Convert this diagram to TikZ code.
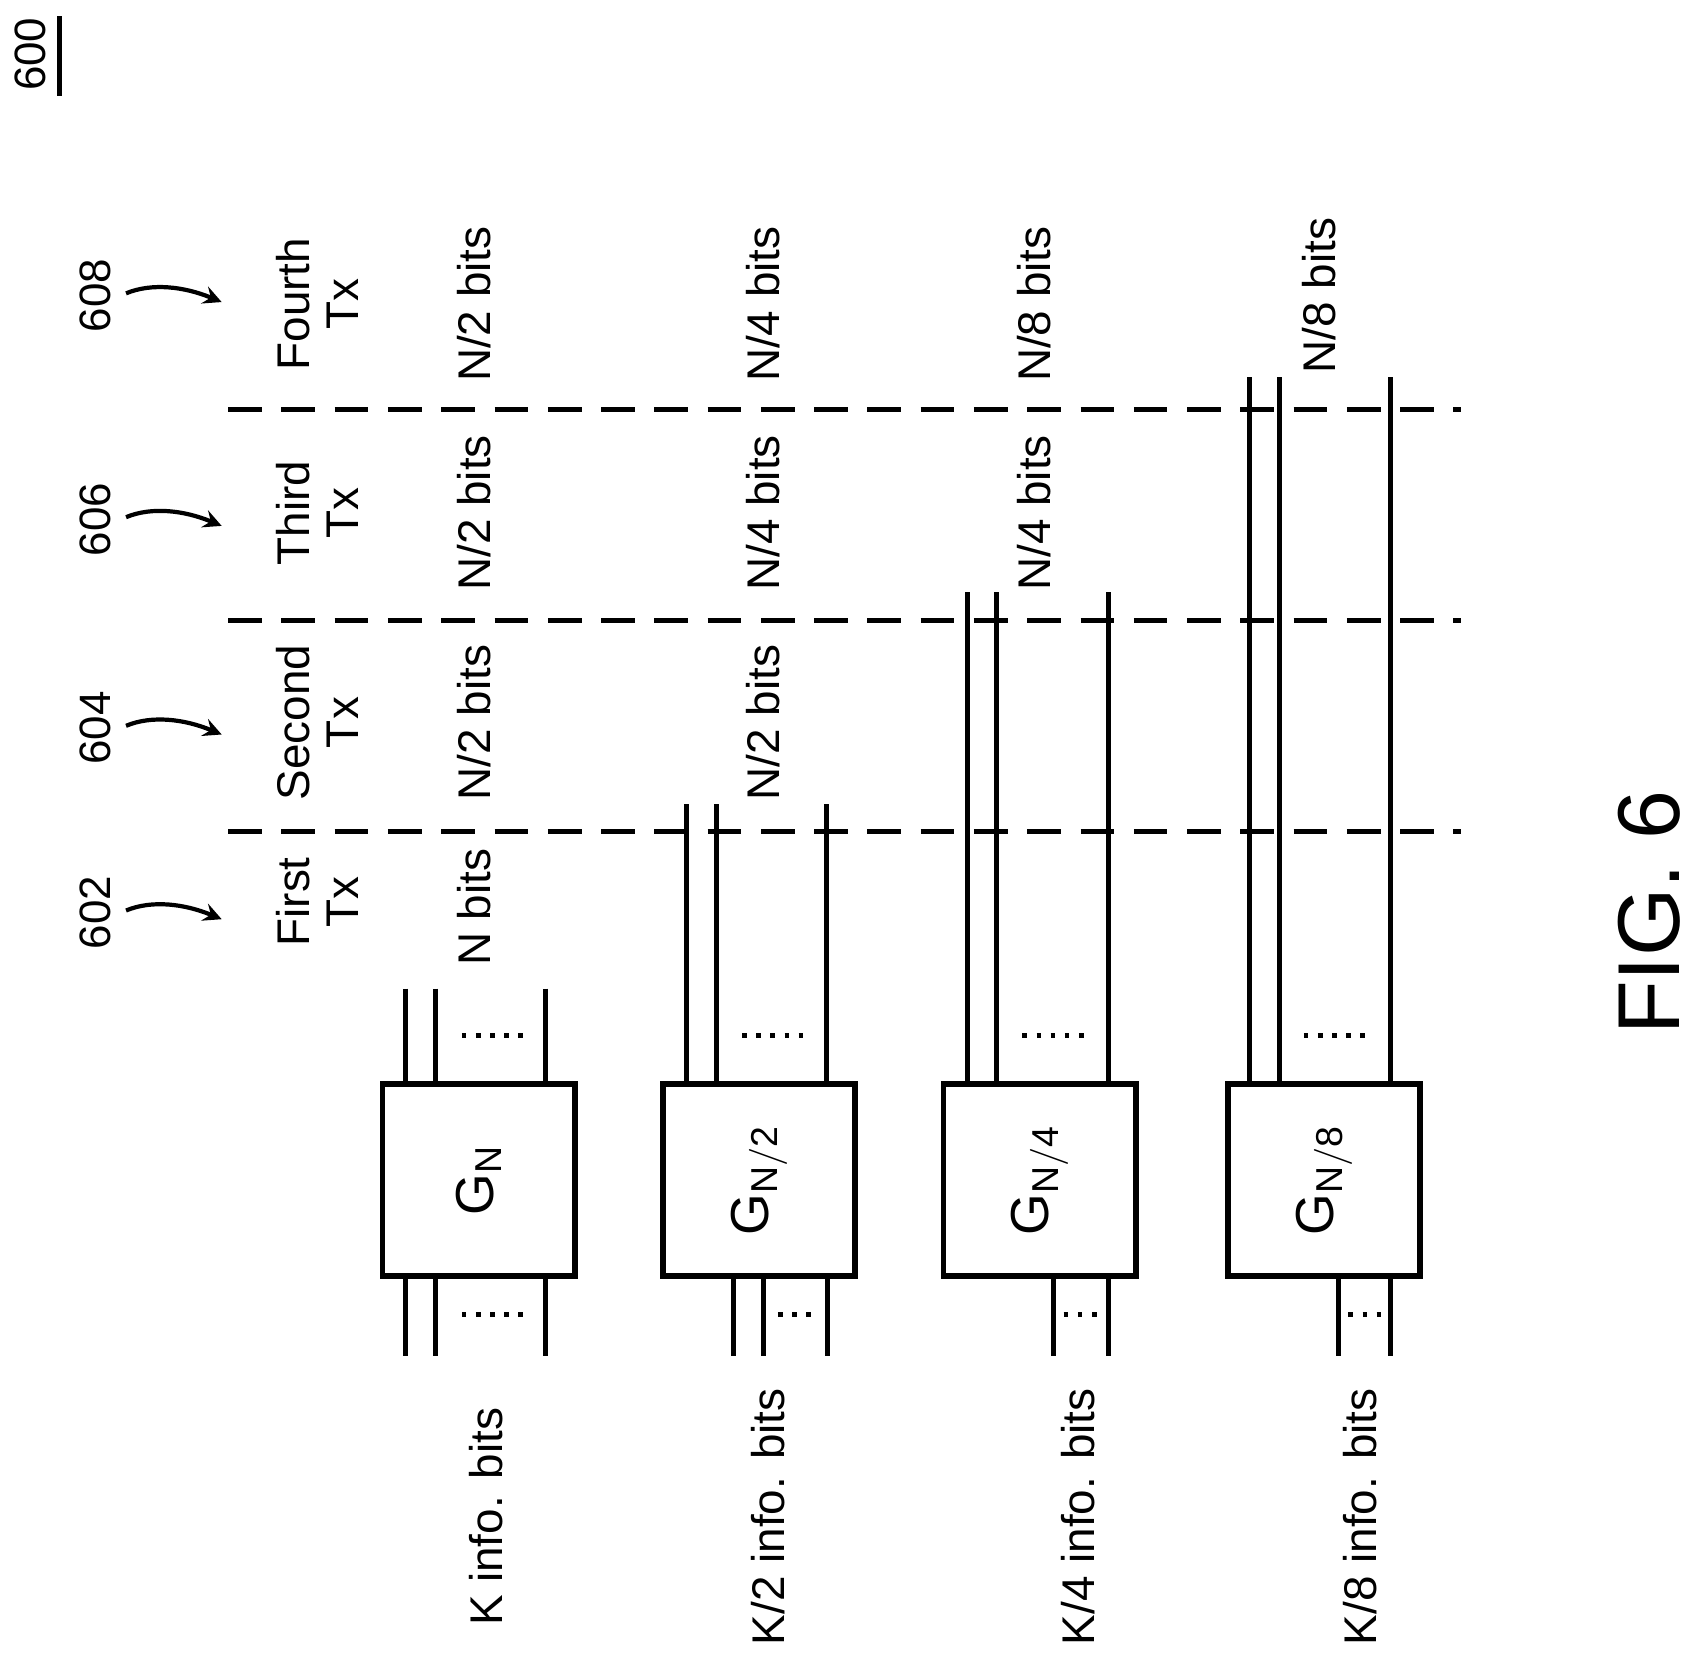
\documentclass[tikz,border=0pt]{standalone}
\usepackage{fontspec}
\setmainfont{Liberation Sans}
\begin{document}
\begin{tikzpicture}[x=0.01cm,y=-0.01cm,
  lbl/.style={rotate=90,font=\fontsize{12}{13}\selectfont,inner sep=0pt},
  ref/.style={rotate=90,font=\fontsize{11.5}{13}\selectfont,inner sep=0pt},
  ln/.style={line width=1.3pt},
  dsh/.style={line width=1.3pt,dash pattern=on 0.31cm off 0.18cm},
  box/.style={draw,line width=1.5pt,minimum width=1.77cm,minimum height=1.76cm,inner sep=0pt},
  dots/.style={line width=1.3pt,dash pattern=on 1.2pt off 2.5pt}]
\useasboundingbox (0,0) rectangle (1560,1534);
% title
\node[ref] (t600) at (28,50) {600};
\coordinate (u1) at (55,15); \coordinate (u2) at (55,88);
\draw[line width=1.2pt] (u1) -- (u2);
% reference labels and arrows
\foreach \n/\y in {602/840,604/670,606/478,608/272}{
  \node[ref] (r\n) at (88,\y) {\n};
  \coordinate (a\n) at (116,\y-2);
  \coordinate (b\n) at (204,\y+6);
  \draw[line width=1.1pt,-stealth] (a\n) .. controls (140,\y-12) and (170,\y-8) .. (b\n);
}
% Tx labels
\node[lbl,align=center] (tx1) at (292,830) {First\\Tx};
\node[lbl,align=center] (tx2) at (292,665) {Second\\Tx};
\node[lbl,align=center] (tx3) at (292,472) {Third\\Tx};
\node[lbl,align=center] (tx4) at (292,280) {Fourth\\Tx};
% dashed separators
\foreach \y/\k in {765/1,571/2,377/3}{
  \coordinate (d\k a) at (210,\y); \coordinate (d\k b) at (1345,\y);
  \draw[dsh] (d\k a) -- (d\k b);
}
% column labels
\node[lbl] (c11) at (436,835) {N bits};
\node[lbl] (c12) at (436,665) {N/2 bits};
\node[lbl] (c13) at (436,472) {N/2 bits};
\node[lbl] (c14) at (436,280) {N/2 bits};
\node[lbl] (c22) at (702,665) {N/2 bits};
\node[lbl] (c23) at (702,472) {N/4 bits};
\node[lbl] (c24) at (702,280) {N/4 bits};
\node[lbl] (c33) at (952,472) {N/4 bits};
\node[lbl] (c34) at (952,280) {N/8 bits};
\node[lbl] (c44) at (1214,272) {N/8 bits};
% boxes
\node[box] (g1) at (440.5,1086) {};
\node[box] (g2) at (698.5,1086) {};
\node[box] (g3) at (957,1086) {};
\node[box] (g4) at (1218.5,1086) {};
\node[lbl,font=\fontsize{14}{15}\selectfont] at (g1) {G$_{\mathrm{N}}$};
\node[lbl,font=\fontsize{14}{15}\selectfont] at (g2) {G$_{\mathrm{N/2}}$};
\node[lbl,font=\fontsize{14}{15}\selectfont] at (g3) {G$_{\mathrm{N/4}}$};
\node[lbl,font=\fontsize{14}{15}\selectfont] at (g4) {G$_{\mathrm{N/8}}$};
% output lines above boxes
\foreach \a/\b/\c/\top/\dx/\k in {373/401/502/910/425/1,632/659/761/740/683/2,890/917/1020/545/941/3,1150/1178/1280/347/1200/4}{
  \foreach \x in {\a,\b,\c}{\draw[ln] (\x,\top) -- (\x,998);}
  \draw[dots] (\dx,953) -- (\dx+58,953);
}
% input lines below boxes
\foreach \x in {373,401,502,675,703,762,970,1020,1232,1280}{\draw[ln] (\x,1174) -- (\x,1248);}
\draw[dots] (425,1210) -- (483,1210);
\draw[dots] (716,1210) -- (747,1210);
\draw[dots] (979,1210) -- (1011,1210);
\draw[dots] (1241,1210) -- (1273,1210);
% bottom labels
\node[lbl] (k1) at (447,1396) {K info. bits};
\node[lbl] (k2) at (707,1396) {K/2 info. bits};
\node[lbl] (k3) at (992,1396) {K/4 info. bits};
\node[lbl] (k4) at (1252,1396) {K/8 info. bits};
% figure label
\node[rotate=90,font=\fontsize{23}{25}\selectfont,inner sep=0pt] (fig) at (1518,840) {FIG. 6};
\end{tikzpicture}
\end{document}
